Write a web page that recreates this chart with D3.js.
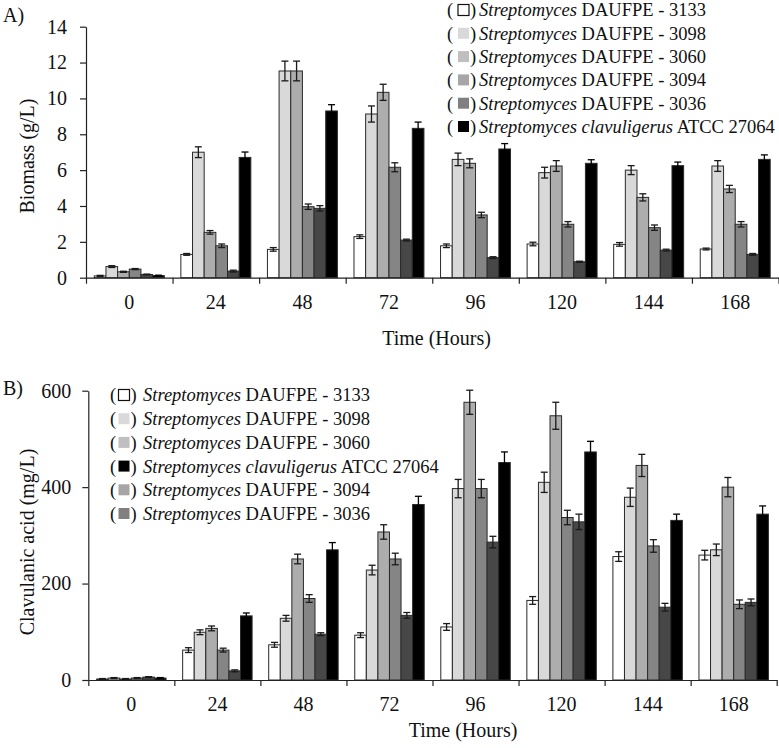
<!DOCTYPE html>
<html><head><meta charset="utf-8">
<script src="https://cdn.jsdelivr.net/npm/d3@7"></script>
<style>body{margin:0;background:#fff}svg{display:block}text{font-family:"Liberation Serif","Times New Roman",serif;fill:#111}</style>
</head><body>
<svg id="c" width="779" height="748"></svg>
<script>
const times = ["0","24","48","72","96","120","144","168"];
const seriesNames = ["3133","3098","3060","3094","3036","ATCC"];
const barColors = ["#ffffff","#d9d9d9","#adadad","#858585","#474747","#000000"];
const legendColors = ["#ffffff","#d9d9d9","#bfbfbf","#a6a6a6","#808080","#000000"];

// Panel A: biomass (g/L)
const bio3133 = [0.1, 1.3, 1.58, 2.29, 1.78, 1.88, 1.86, 1.6];
const bio3098 = [0.62, 7.0, 11.53, 9.13, 6.6, 5.86, 6.0, 6.23];
const bio3060 = [0.33, 2.53, 11.53, 10.34, 6.38, 6.23, 4.48, 4.95];
const bio3094 = [0.48, 1.78, 3.96, 6.16, 3.5, 2.98, 2.79, 2.98];
const bio3036 = [0.18, 0.37, 3.87, 2.1, 1.12, 0.89, 1.54, 1.3];
const bioATCC = [0.12, 6.71, 9.3, 8.33, 7.18, 6.38, 6.25, 6.6];
const bioErr3133 = [0.03, 0.05, 0.1, 0.1, 0.1, 0.1, 0.1, 0.05];
const bioErr3098 = [0.05, 0.3, 0.55, 0.45, 0.35, 0.3, 0.25, 0.3];
const bioErr3060 = [0.03, 0.1, 0.55, 0.45, 0.25, 0.3, 0.2, 0.2];
const bioErr3094 = [0.03, 0.1, 0.15, 0.25, 0.15, 0.15, 0.15, 0.15];
const bioErr3036 = [0.02, 0.05, 0.15, 0.05, 0.05, 0.03, 0.05, 0.05];
const bioErrATCC = [0.02, 0.3, 0.35, 0.35, 0.3, 0.2, 0.2, 0.25];
const bioTicks = [0, 2, 4, 6, 8, 10, 12, 14];

// Panel B: clavulanic acid (mg/L)
const ca3133 = [2, 62, 73, 93, 110, 165, 256, 259];
const ca3098 = [4, 99, 128, 228, 397, 410, 379, 270];
const ca3060 = [2, 107, 251, 307, 576, 548, 445, 400];
const ca3094 = [4, 62, 169, 251, 397, 337, 278, 157];
const ca3036 = [6, 19, 95, 134, 286, 328, 151, 161];
const caATCC = [4, 133, 270, 364, 451, 473, 331, 344];
const caErr3133 = [1, 5, 5, 5, 7, 8, 10, 10];
const caErr3098 = [1, 5, 6, 10, 19, 21, 19, 12];
const caErr3060 = [1, 5, 10, 15, 25, 28, 23, 20];
const caErr3094 = [1, 4, 8, 12, 19, 15, 13, 9];
const caErr3036 = [1, 2, 3, 6, 12, 16, 8, 7];
const caErrATCC = [1, 6, 15, 17, 22, 22, 13, 17];
const caTicks = [0, 200, 400, 600];

// legends
const legendA = [
  {it:"Streptomyces", rest:" DAUFPE - 3133", c:0},
  {it:"Streptomyces", rest:" DAUFPE - 3098", c:1},
  {it:"Streptomyces", rest:" DAUFPE - 3060", c:2},
  {it:"Streptomyces", rest:" DAUFPE - 3094", c:3},
  {it:"Streptomyces", rest:" DAUFPE - 3036", c:4},
  {it:"Streptomyces clavuligerus", rest:" ATCC 27064", c:5}
];
const legendB = [
  {it:"Streptomyces", rest:" DAUFPE - 3133", c:0},
  {it:"Streptomyces", rest:" DAUFPE - 3098", c:1},
  {it:"Streptomyces", rest:" DAUFPE - 3060", c:2},
  {it:"Streptomyces clavuligerus", rest:" ATCC 27064", c:5},
  {it:"Streptomyces", rest:" DAUFPE - 3094", c:3},
  {it:"Streptomyces", rest:" DAUFPE - 3036", c:4}
];

const svg = d3.select("#c");

function panel(o){
  const g = svg.append("g");
  const x0 = d3.scaleBand().domain(times).range([o.left, o.right]).padding(0);
  const xb = d3.scaleLinear().domain([0, times.length]).range([o.left, o.right]);
  const pad = 8.3;
  const x1 = d3.scaleBand().domain(seriesNames).range([pad, x0.bandwidth()-pad]).padding(0);
  const y = d3.scaleLinear().domain([0, o.max]).range([o.bottom, o.top]);
  const vals = o.values, errs = o.errors;

  const data = [];
  times.forEach((t,i)=>seriesNames.forEach((s,j)=>data.push({t, s, j, v: vals[j][i], e: errs[j][i]})));

  g.selectAll("rect.bar").data(data).enter().append("rect")
    .attr("x", d=>x0(d.t)+x1(d.s))
    .attr("y", d=>y(d.v))
    .attr("width", x1.bandwidth())
    .attr("height", d=>o.bottom - y(d.v))
    .attr("fill", d=>barColors[d.j])
    .attr("stroke", "#2a2a2a").attr("stroke-width", 1);

  const eb = g.selectAll("g.err").data(data).enter().append("g")
    .attr("stroke", d=> d.j===5 ? "#000" : "#1a1a1a").attr("stroke-width", 1.3);
  const cx = d=>x0(d.t)+x1(d.s)+x1.bandwidth()/2;
  eb.append("line").attr("x1",cx).attr("x2",cx).attr("y1",d=>y(d.v+d.e)).attr("y2",d=>y(Math.max(0,d.v-d.e)));
  eb.append("line").attr("x1",d=>cx(d)-3.5).attr("x2",d=>cx(d)+3.5).attr("y1",d=>y(d.v+d.e)).attr("y2",d=>y(d.v+d.e));
  eb.append("line").attr("x1",d=>cx(d)-3.5).attr("x2",d=>cx(d)+3.5).attr("y1",d=>y(Math.max(0,d.v-d.e))).attr("y2",d=>y(Math.max(0,d.v-d.e)));

  // y axis
  const ya = g.append("g").attr("transform",`translate(${o.left},0)`)
    .call(d3.axisLeft(y).tickValues(o.ticks).tickSize(6).tickSizeOuter(0).tickPadding(o.ypad));
  ya.selectAll("text").style("font-size","20px").attr("fill","#111");
  ya.selectAll("line,path").attr("stroke","#222").attr("stroke-width",1.2);

  // x axis: labels at band centres
  const xa = g.append("g").attr("transform",`translate(0,${o.bottom})`)
    .call(d3.axisBottom(x0).tickSize(0).tickPadding(17));
  xa.selectAll("text").style("font-size","20px").attr("fill","#111");
  xa.select("path").attr("stroke","#222").attr("stroke-width",1.2);
  // boundary ticks
  const xt = g.append("g").attr("transform",`translate(0,${o.bottom})`)
    .call(d3.axisBottom(xb).tickValues(d3.range(times.length+1)).tickSize(6).tickFormat(""));
  xt.select("path").remove();
  xt.selectAll("line").attr("stroke","#222").attr("stroke-width",1.2);

  g.append("text").attr("x", o.xTitleX).attr("y", o.xTitleY).attr("text-anchor","middle")
    .style("font-size","20px").text("Time (Hours)");
  g.append("text").attr("transform",`translate(${o.yTitleX},${o.yTitleY}) rotate(-90)`)
    .attr("text-anchor","middle").attr("dy","0.35em").style("font-size","20px").text(o.yTitle);
  g.append("text").attr("x", o.tagX).attr("y", o.tagY).style("font-size","20px").text(o.tag);

  // legend
  const fs = "18.5px";
  const lg = g.selectAll("g.leg").data(o.legend).enter().append("g")
    .attr("transform",(d,i)=>`translate(${o.legX},${o.legY + i*o.legStep})`);
  lg.append("text").attr("x",0).attr("dy","0.35em").style("font-size",fs).text("(");
  lg.append("rect").attr("x",o.swX).attr("y",-5.5).attr("width",11).attr("height",11)
    .attr("fill",d=>legendColors[d.c])
    .attr("stroke",d=>d.c===0 ? "#111" : "none").attr("stroke-width",1.2);
  lg.append("text").attr("x",o.swX+12).attr("dy","0.35em").style("font-size",fs).text(")");
  const tt = lg.append("text").attr("x",o.txX).attr("dy","0.35em").style("font-size",fs);
  tt.append("tspan").style("font-style","italic").text(d=>d.it);
  tt.append("tspan").text(d=>d.rest);
}

panel({
  left:86, right:778.5, top:26.7, bottom:277.7, max:14, ticks:bioTicks, ypad:13,
  values:[bio3133,bio3098,bio3060,bio3094,bio3036,bioATCC],
  errors:[bioErr3133,bioErr3098,bioErr3060,bioErr3094,bioErr3036,bioErrATCC],
  xTitleX:436.5, xTitleY:345, yTitleX:27, yTitleY:156, yTitle:"Biomass (g/L)",
  tag:"A)", tagX:3, tagY:22,
  legend:legendA, legX:447, legY:10, legStep:23.3, swX:11, txX:32
});
panel({
  left:88.3, right:776.7, top:390.7, bottom:680, max:600, ticks:caTicks, ypad:11,
  values:[ca3133,ca3098,ca3060,ca3094,ca3036,caATCC],
  errors:[caErr3133,caErr3098,caErr3060,caErr3094,caErr3036,caErrATCC],
  xTitleX:463, xTitleY:737, yTitleX:27, yTitleY:542, yTitle:"Clavulanic acid (mg/L)",
  tag:"B)", tagX:3, tagY:395,
  legend:legendB, legX:110, legY:395, legStep:23.7, swX:8.5, txX:33
});
</script>
</body></html>
